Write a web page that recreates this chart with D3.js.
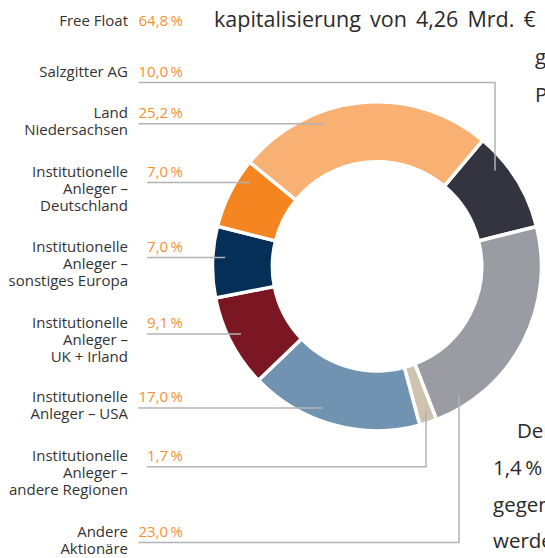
<!DOCTYPE html>
<html>
<head>
<meta charset="utf-8">
<script src="https://cdn.jsdelivr.net/npm/d3@7"></script>
<style>
  body { margin: 0; background: #fff; }
  svg { display: block; font-family: "Open Sans", sans-serif; }
</style>
</head>
<body>
<div id="chart"></div>
<script>
// Aktionärsstruktur (Anteile in %)
const categories = ["Salzgitter AG", "Andere Aktionäre", "Institutionelle Anleger – andere Regionen",
    "Institutionelle Anleger – USA", "Institutionelle Anleger – UK + Irland",
    "Institutionelle Anleger – sonstiges Europa", "Institutionelle Anleger – Deutschland", "Land Niedersachsen"];
const shares = [10.0, 23.0, 1.7, 17.0, 9.1, 7.0, 7.0, 25.2];
const colors = ["#33343f", "#9b9ba3", "#cec3ae", "#7193b2", "#7b1723", "#052f56", "#f58521", "#f9b173"];
const freeFloatLabel = "Free Float";
const freeFloatValue = 64.8;

// label rows, top to bottom
const labelOrder = ["Salzgitter AG", "Land Niedersachsen", "Institutionelle Anleger – Deutschland",
    "Institutionelle Anleger – sonstiges Europa", "Institutionelle Anleger – UK + Irland",
    "Institutionelle Anleger – USA", "Institutionelle Anleger – andere Regionen", "Andere Aktionäre"];
const labelLines = {
    "Salzgitter AG": ["Salzgitter AG"],
    "Land Niedersachsen": ["Land", "Niedersachsen"],
    "Institutionelle Anleger – Deutschland": ["Institutionelle", "Anleger –", "Deutschland"],
    "Institutionelle Anleger – sonstiges Europa": ["Institutionelle", "Anleger –", "sonstiges Europa"],
    "Institutionelle Anleger – UK + Irland": ["Institutionelle", "Anleger –", "UK + Irland"],
    "Institutionelle Anleger – USA": ["Institutionelle", "Anleger – USA"],
    "Institutionelle Anleger – andere Regionen": ["Institutionelle", "Anleger –", "andere Regionen"],
    "Andere Aktionäre": ["Andere", "Aktionäre"]
};

const width = 545, height = 558;
const cx = 377, cy = 266.3, rOuter = 164.5, rInner = 104.6, rLead = 152;
const fmt = v => d3.format(".1f")(v).replace(".", ",") + "\u2009%";

const svg = d3.select("#chart").append("svg")
    .attr("width", width)
    .attr("height", height);

// background page text (clipped at the right edge)
const pageText = svg.append("g").attr("fill", "#2a2a2a").attr("font-size", 20.5);
pageText.append("text").attr("x", 214).attr("y", 27)
    .attr("font-size", 21.5).attr("word-spacing", 3.5)
    .text("kapitalisierung von 4,26 Mrd. € in");
pageText.append("text").attr("x", 535).attr("y", 64).text("ge");
pageText.append("text").attr("x", 535).attr("y", 102).text("Pr");
pageText.append("text").attr("x", 517).attr("y", 438).text("Der");
pageText.append("text").attr("x", 493).attr("y", 475).text("1,4\u2009% der");
pageText.append("text").attr("x", 493).attr("y", 512).text("gegenüber");
pageText.append("text").attr("x", 493).attr("y", 548).text("werden");

// donut
const pie = d3.pie().sort(null).value(d => d)
    .startAngle(40 * Math.PI / 180)
    .endAngle(40 * Math.PI / 180 + 2 * Math.PI);
const arcs = pie(shares);
const arc = d3.arc().innerRadius(rInner).outerRadius(rOuter);

svg.append("g")
    .attr("transform", `translate(${cx},${cy})`)
    .selectAll("path")
    .data(arcs)
    .join("path")
    .attr("d", arc)
    .attr("fill", (d, i) => colors[i])
    .attr("stroke", "#fff")
    .attr("stroke-width", 3.5)
    .attr("stroke-linejoin", "miter");

// labels
const labelX = 128, valueX = 183, lineH = 17;
const rowY = {
    "Salzgitter AG": 76.7, "Land Niedersachsen": 118,
    "Institutionelle Anleger – Deutschland": 176.7, "Institutionelle Anleger – sonstiges Europa": 251.7,
    "Institutionelle Anleger – UK + Irland": 328.3, "Institutionelle Anleger – USA": 402.3,
    "Institutionelle Anleger – andere Regionen": 461, "Andere Aktionäre": 536.7
};
// leader elbow: vertical segment at x (up = goes to upper half of ring)
const elbow = {
    "Salzgitter AG": { x: 495, up: true },
    "Institutionelle Anleger – andere Regionen": { x: 426, up: false },
    "Andere Aktionäre": { x: 459, up: false }
};

const labels = svg.append("g").attr("font-size", 15);

function addRow(name, lines, value, y, withLeader) {
    const t = labels.append("text")
        .attr("text-anchor", "end")
        .attr("fill", "#333")
        .attr("x", labelX)
        .attr("y", y);
    lines.forEach((l, i) => t.append("tspan").attr("x", labelX).attr("y", y + i * lineH).text(l));

    const v = labels.append("text")
        .attr("text-anchor", "end")
        .attr("fill", "#f39234")
        .attr("x", valueX)
        .attr("y", y)
        .text(fmt(value));

    if (!withLeader) return;
    const x0 = valueX - v.node().getComputedTextLength();
    const ly = y + 5.8;
    let pts;
    if (elbow[name]) {
        const ex = elbow[name].x;
        const dy = Math.sqrt(rLead * rLead - (ex - cx) * (ex - cx));
        pts = [[x0, ly], [ex, ly], [ex, elbow[name].up ? cy - dy : cy + dy]];
    } else {
        const dx = Math.sqrt(rLead * rLead - (ly - cy) * (ly - cy));
        pts = [[x0, ly], [cx - dx, ly]];
    }
    svg.append("path")
        .attr("d", d3.line()(pts))
        .attr("fill", "none")
        .attr("stroke", "#b3b3b3")
        .attr("stroke-width", 1.5);
}

addRow(freeFloatLabel, [freeFloatLabel], freeFloatValue, 26, false);
labelOrder.forEach(name => {
    const i = categories.indexOf(name);
    addRow(name, labelLines[name], shares[i], rowY[name], true);
});
</script>
</body>
</html>
